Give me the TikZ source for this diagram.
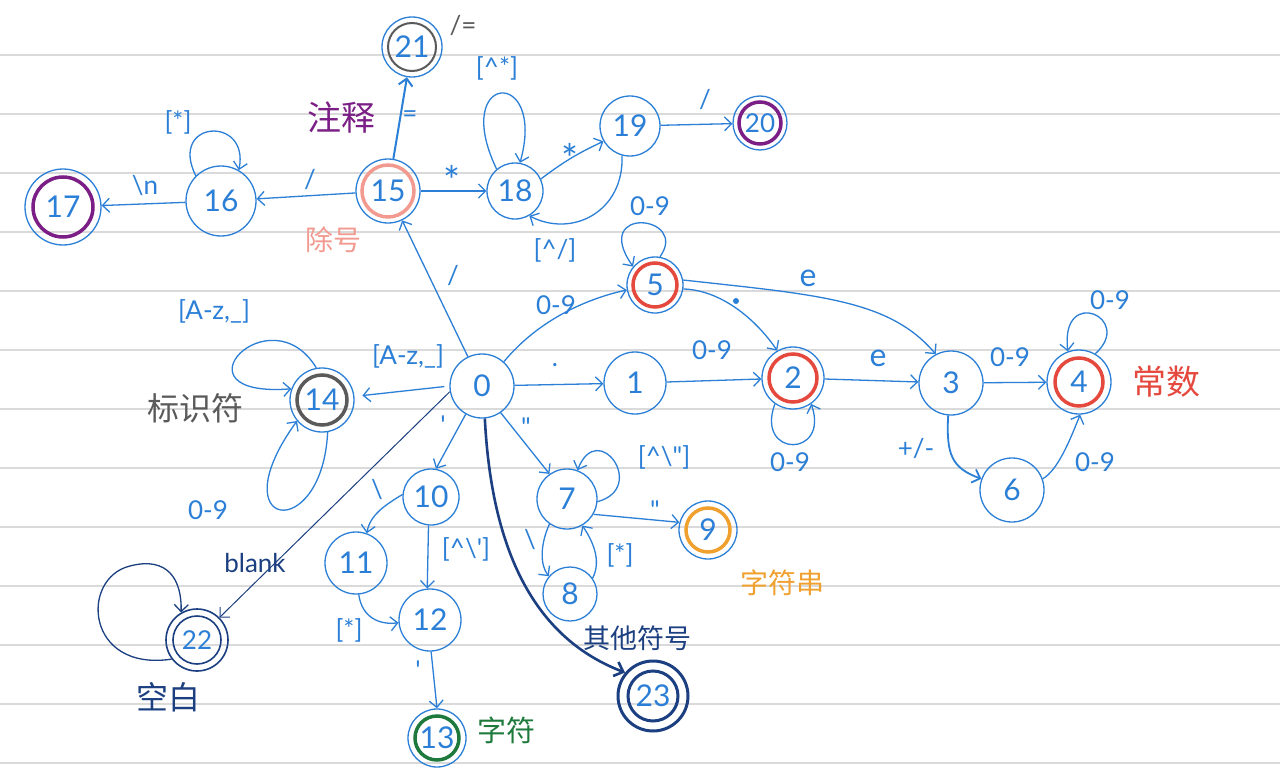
\documentclass[tikz,border=0pt]{standalone}
\usepackage{fontspec}
\setmainfont{Lato}
\newfontfamily\cjk{Noto Sans CJK SC}
\usetikzlibrary{arrows.meta}
\definecolor{ub}{HTML}{2B7FD6}
\definecolor{navy}{HTML}{1B3F80}
\definecolor{rl}{HTML}{DADADA}
\definecolor{cred}{HTML}{E5483D}
\definecolor{salmon}{HTML}{F29A90}
\definecolor{purp}{HTML}{7B1F86}
\definecolor{gry}{HTML}{5A5A5A}
\definecolor{orng}{HTML}{F0A02E}
\definecolor{grn}{HTML}{1E7A3C}
\begin{document}
\begin{tikzpicture}[x=1pt,y=-1pt,
  st/.style={circle,draw=ub,line width=1.3pt,minimum size=#1,inner sep=0pt,
    font=\fontsize{30}{32}\selectfont,text=ub},
  tr/.style={draw=ub,line width=1.3pt,-{Straight Barb[length=7pt,width=14pt]}},
  lb/.style={text=ub,font=\fontsize{26}{28}\selectfont,inner sep=0pt},
  sl/.style={text=ub,font=\fontsize{40}{40}\selectfont,inner sep=0pt},
  zh/.style={font=\cjk\fontsize{#1}{#1}\selectfont,inner sep=0pt},
  ring/.style={line width=3.5pt}
]
\fill[white] (0,0) rectangle (1280,768);
\useasboundingbox (0,0) rectangle (1280,768);
\foreach \k in {0,...,12} \draw[rl,line width=1.2pt] (0,{55+59*\k}) -- (1280,{55+59*\k});

% states
\node[st=64pt] (n0) at (482,386) {0};
\node[st=62pt] (n1) at (635,383) {1};
\node[st=62pt] (n2) at (793,378) {2};
\node[st=64pt] (n3) at (951,383) {3};
\node[st=64pt] (n4) at (1079,382) {4};
\node[st=56pt] (n5) at (655,285) {5};
\node[st=64pt] (n6) at (1012,490) {6};
\node[st=60pt] (n7) at (567,499) {7};
\node[st=54pt] (n8) at (570,594) {8};
\node[st=58pt] (n9) at (708,530) {9};
\node[st=56pt] (n10) at (431,497) {10};
\node[st=62pt] (n11) at (356,563) {11};
\node[st=62pt] (n12) at (430,620) {12};
\node[st=58pt] (n13) at (437,738) {13};
\node[st=64pt] (n14) at (322,400) {14};
\node[st=64pt] (n15) at (388,191) {15};
\node[st=70pt] (n16) at (221,201) {16};
\node[st=76pt] (n17) at (63,207) {17};
\node[st=56pt] (n18) at (515,191) {18};
\node[st=60pt] (n19) at (630,126) {19};
\node[st=54pt,font=\fontsize{26}{28}\selectfont] (n20) at (760,123) {20};
\node[st=60pt] (n21) at (412,47) {21};
\node[st=62pt,draw=navy,line width=1.6pt,font=\fontsize{26}{28}\selectfont] (n22) at (197,640) {22};
\node[st=70pt,draw=navy,line width=3pt] (n23) at (653,696) {23};

% accepting rings
\draw[ring,cred] (n2.center) circle[radius=24pt];
\draw[ring,cred] (n4.center) circle[radius=24pt];
\draw[ring,cred] (n5.center) circle[radius=22pt];
\draw[ring,orng] (n9.center) circle[radius=22pt];
\draw[ring,grn] (n13.center) circle[radius=22pt];
\draw[ring,gry] (n14.center) circle[radius=25pt];
\draw[ring,salmon] (n15.center) circle[radius=26pt];
\draw[ring,purp] (n17.center) circle[radius=30pt];
\draw[ring,purp] (n20.center) circle[radius=21pt];
\draw[line width=2pt,gry] (n21.center) circle[radius=24pt];
\draw[line width=1.6pt,navy] (n22.center) circle[radius=24pt];
\draw[line width=3pt,navy] (n23.center) circle[radius=25pt];

% comment / division branch
\draw[tr] (n0) -- (n15);
\node[lb] (l015) at (453,276) {/};
\draw[tr] (n15) -- (n16);
\node[lb] (l1516) at (310,180) {/};
\draw[tr] (n16) -- (n17);
\node[lb] (l1617) at (145,186) {\textbackslash n};
\draw[tr] (n16.135) .. controls (168,120) and (250,115) .. (n16.60);
\node[lb] (l1616) at (178,122) {[*]};
\draw[tr,line width=2pt] (n15) -- (n21);
\node[lb] (l1521) at (410,117) {=};
\node[text=gry,font=\fontsize{26}{28}\selectfont,inner sep=0pt] (l21) at (463,26) {/=};
\draw[tr] (n15) -- (n18);
\node[sl] (l1518) at (452,180) {*};
\draw[tr] (n18.130) .. controls (450,72) and (547,66) .. (n18.80);
\node[lb] (l1818) at (497,68) {[\textasciicircum*]};
\draw[tr] (n18.25) to[bend left=6] (n19.210);
\node[sl] (l1819) at (570,158) {*};
\draw[tr] (n19.-105) .. controls (624,212) and (572,238) .. (n18.-60);
\node[lb] (l1918) at (555,250) {[\textasciicircum/]};
\draw[tr] (n19) -- (n20);
\node[lb] (l1920) at (705,100) {/};

% numbers
\draw[tr] (n0.48) .. controls (540,318) and (590,298) .. (n5.190);
\node[lb] (l05) at (556,305) {0-9};
\draw[tr] (n5.80) .. controls (690,215) and (590,205) .. (n5.140);
\node[lb] (l55) at (650,206) {0-9};
\draw[tr] (n0) -- (n1);
\node[lb] (l01) at (555,365) {.};
\draw[tr] (n1) -- (n2);
\node[lb] (l12) at (712,350) {0-9};
\draw[tr] (n2.-125) .. controls (755,458) and (830,458) .. (n2.-55);
\node[lb] (l22) at (790,462) {0-9};
\draw[tr] (n5.-8) .. controls (720,290) and (755,318) .. (n2.120);
\fill[ub] (736,301) circle[radius=3pt];
\draw[tr] (n5.10) .. controls (820,295) and (890,300) .. (n3.118);
\node[lb,font=\fontsize{32}{32}\selectfont] (l53) at (808,278) {e};
\draw[tr] (n2) -- (n3);
\node[lb,font=\fontsize{32}{32}\selectfont] (l23) at (878,358) {e};
\draw[tr] (n3) -- (n4);
\node[lb] (l34) at (1010,357) {0-9};
\draw[tr] (n4.60) .. controls (1135,318) and (1060,285) .. (n4.110);
\node[lb] (l44) at (1110,300) {0-9};
\draw[tr,line width=1.8pt] (n3.-95) .. controls (946,455) and (952,468) .. (n6.160);
\node[lb] (l36) at (916,449) {+/-};
\draw[tr] (n6.20) .. controls (1058,470) and (1070,440) .. (n4.-88);
\node[lb] (l64) at (1095,462) {0-9};
\node[zh=34,text=cred] (tconst) at (1166,382) {常数};

% identifier
\draw[tr,shorten <=5pt,shorten >=8pt] (n0.180) -- (n14);
\node[lb] (l014) at (408,356) {[A-z,\_]};
\draw[tr] (n14.100) .. controls (270,292) and (168,398) .. (n14.160);
\node[lb] (l1414a) at (214,311) {[A-z,\_]};
\draw[tr] (n14.-80) .. controls (322,545) and (218,530) .. (n14.220);
\node[lb] (l1414b) at (208,510) {0-9};
\node[zh=32,text=gry] (tid) at (195,408) {标识符};

% blank
\draw[navy,line width=1pt,-{Straight Barb[length=7pt,width=14pt]}] (n0.190) -- (n22.45);
\node[text=navy,font=\fontsize{26}{28}\selectfont,inner sep=0pt] (lblank) at (255,563) {blank};
\draw[navy,line width=1.3pt,-{Straight Barb[length=7pt,width=14pt]}] (n22.217) .. controls (85,672) and (80,578) .. (130,566) .. controls (168,556) and (182,580) .. (n22.120);
\node[zh=32,text=navy] (tblank) at (168,697) {空白};

% char
\draw[tr] (n0.-120) -- (n10.80);
\node[lb] (l010) at (443,425) {\textquotesingle};
\draw[tr] (n10.175) .. controls (385,505) and (370,515) .. (n11.70);
\node[lb] (l1011) at (377,490) {\textbackslash};
\draw[tr] (n10.-95) -- (n12.95);
\node[lb] (l1012) at (466,549) {[\textasciicircum\textbackslash\textquotesingle]};
\draw[tr] (n11.-85) .. controls (362,618) and (380,625) .. (n12.185);
\node[lb] (l1112) at (349,630) {[*]};
\draw[tr] (n12.-88) -- (n13.90);
\node[lb] (l1213) at (418,670) {\textquotesingle};
\node[zh=29,text=grn] (tchar) at (506,730) {字符};

% string
\draw[tr] (n0.-55) -- (n7.125);
\node[lb] (l07) at (526,427) {\textquotedbl};
\draw[tr] (n7.-5) .. controls (648,488) and (598,418) .. (n7.70);
\node[lb] (l77) at (664,457) {[\textasciicircum\textbackslash\textquotedbl]};
\draw[tr] (n7.-30) -- (n9.165);
\node[lb] (l79) at (655,510) {\textquotedbl};
\draw[tr] (n7.235) .. controls (540,545) and (540,565) .. (n8.140);
\node[lb] (l78) at (530,540) {\textbackslash};
\draw[tr] (n8.35) .. controls (602,560) and (592,540) .. (n7.-60);
\node[lb] (l87) at (620,555) {[*]};
\node[zh=28,text=orng] (tstr) at (782,583) {字符串};

% other symbols
\draw[navy,line width=2.6pt,-{Straight Barb[length=8pt,width=15pt]}] (n0.-85) .. controls (492,560) and (540,640) .. (n23.140);
\node[zh=27,text=navy] (tother) at (637,638) {其他符号};

% division / comment labels
\node[zh=28,text=salmon] (tdiv) at (333,240) {除号};
\node[zh=34,text=purp] (tcom) at (341,118) {注释};
\end{tikzpicture}
\end{document}
